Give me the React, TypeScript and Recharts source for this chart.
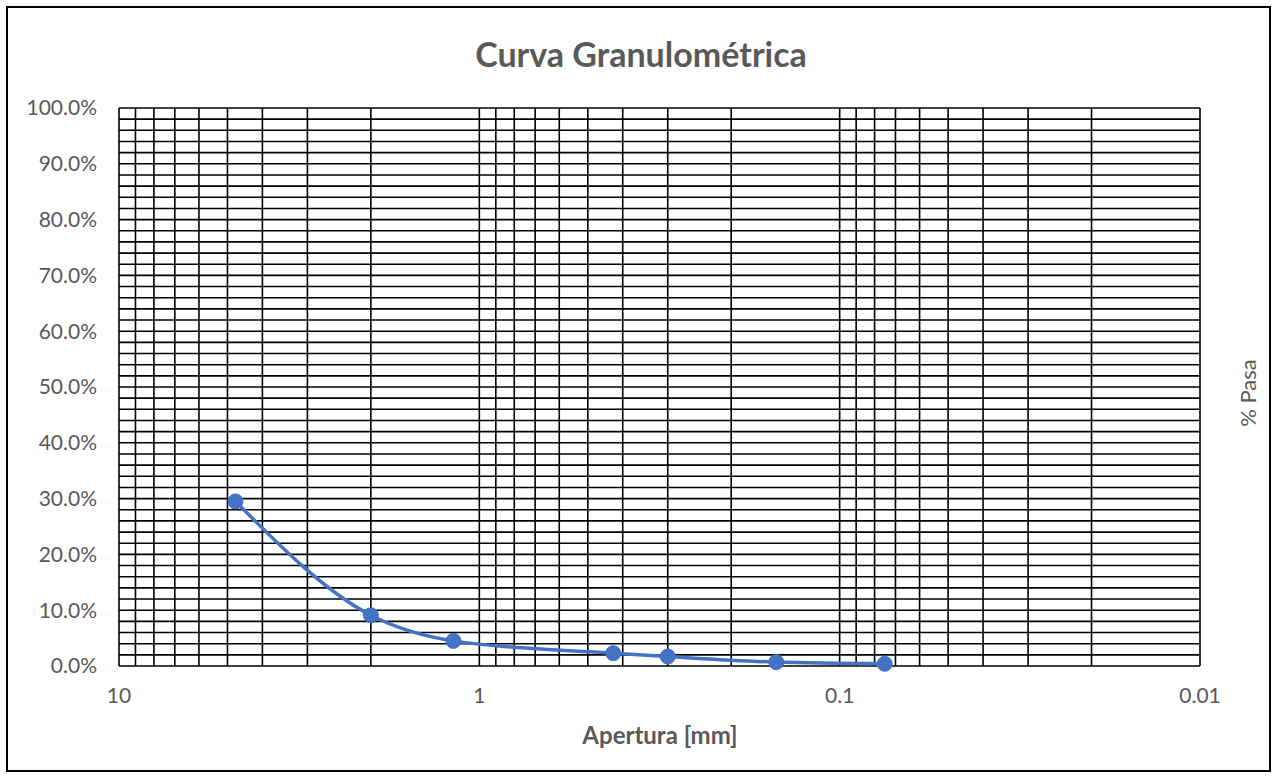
import { LineChart, Line, XAxis, YAxis, CartesianGrid } from 'recharts';

// sieve openings (mm) and % passing
const aperturas = [4.75, 2.0, 1.18, 0.425, 0.3, 0.15, 0.075];
const pasa = [0.295, 0.091, 0.045, 0.023, 0.017, 0.007, 0.004];

const xTicks = [10, 1, 0.1, 0.01];
const yTicks = [0, 0.1, 0.2, 0.3, 0.4, 0.5, 0.6, 0.7, 0.8, 0.9, 1];

// minor log gridlines
const xGrid = [
  10, 9, 8, 7, 6, 5, 4, 3, 2,
  1, 0.9, 0.8, 0.7, 0.6, 0.5, 0.4, 0.3, 0.2,
  0.1, 0.09, 0.08, 0.07, 0.06, 0.05, 0.04, 0.03, 0.02,
  0.01,
];
const yGrid = [
  0, 0.02, 0.04, 0.06, 0.08, 0.1, 0.12, 0.14, 0.16, 0.18,
  0.2, 0.22, 0.24, 0.26, 0.28, 0.3, 0.32, 0.34, 0.36, 0.38,
  0.4, 0.42, 0.44, 0.46, 0.48, 0.5, 0.52, 0.54, 0.56, 0.58,
  0.6, 0.62, 0.64, 0.66, 0.68, 0.7, 0.72, 0.74, 0.76, 0.78,
  0.8, 0.82, 0.84, 0.86, 0.88, 0.9, 0.92, 0.94, 0.96, 0.98, 1,
];

const data = aperturas.map((a, i) => ({ apertura: a, pasa: pasa[i] }));

const font = 'Lato, "Open Sans", sans-serif';
const gray = '#595959';

export default function App() {
  return (
    <div
      style={{
        position: 'absolute',
        left: 6,
        top: 6,
        width: 1261,
        height: 762,
        border: '2px solid #000',
        background: '#fff',
        fontFamily: font,
      }}
    >
      <div
        style={{
          position: 'absolute',
          left: 0,
          width: 1266,
          top: 25,
          textAlign: 'center',
          fontSize: 34,
          fontWeight: 'bold',
          color: gray,
        }}
      >
        Curva Granulométrica
      </div>
      <LineChart
        width={1261}
        height={762}
        data={data}
        margin={{ top: 100, right: 69, bottom: 0, left: 11 }}
      >
        <CartesianGrid
          stroke="#000"
          strokeWidth={1.6}
          verticalValues={xGrid}
          horizontalValues={yGrid}
        />
        <XAxis
          dataKey="apertura"
          type="number"
          scale="log"
          domain={[0.01, 10]}
          reversed
          allowDataOverflow
          ticks={xTicks}
          interval={0}
          tickLine={false}
          axisLine={false}
          tickSize={0}
          tickMargin={22}
          height={104}
          tick={{ fill: gray, fontSize: 21, fontFamily: font }}
        />
        <YAxis
          type="number"
          domain={[0, 1]}
          ticks={yTicks}
          interval={0}
          tickLine={false}
          axisLine={false}
          tickSize={0}
          tickMargin={22}
          width={100}
          tickFormatter={(v: number) => (v * 100).toFixed(1) + '%'}
          tick={{ fill: gray, fontSize: 21, fontFamily: font }}
        />
        <Line
          type="monotone"
          dataKey="pasa"
          stroke="#4472C4"
          strokeWidth={3.5}
          dot={{ r: 7.5, fill: '#4472C4', stroke: '#4472C4', strokeWidth: 1 }}
          isAnimationActive={false}
        />
      </LineChart>
      <div
        style={{
          position: 'absolute',
          left: 452,
          width: 400,
          top: 712,
          textAlign: 'center',
          fontSize: 24,
          fontWeight: 'bold',
          color: gray,
        }}
      >
        Apertura [mm]
      </div>
      <div
        style={{
          position: 'absolute',
          left: 1239,
          top: 385,
          transform: 'translate(-50%, -50%) rotate(-90deg)',
          fontSize: 22,
          color: gray,
          whiteSpace: 'nowrap',
        }}
      >
        % Pasa
      </div>
    </div>
  );
}
